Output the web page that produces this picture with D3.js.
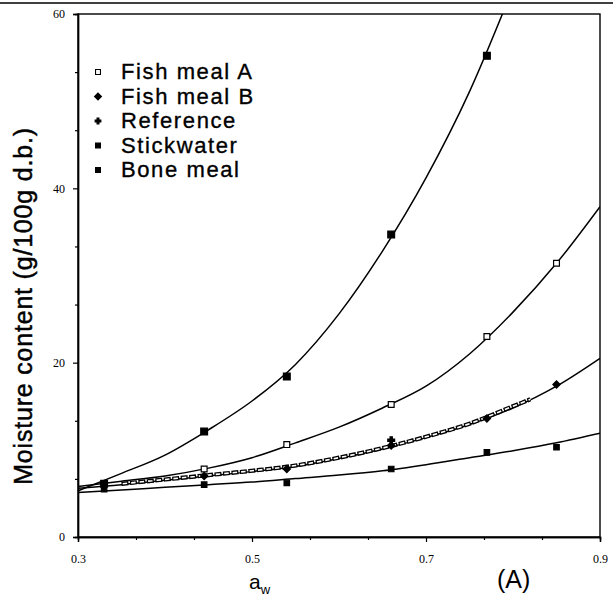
<!DOCTYPE html>
<html>
<head>
<meta charset="utf-8">
<script src="https://cdn.jsdelivr.net/npm/d3@7"></script>
<style>
  body { margin: 0; background: #fff; }
  svg { display: block; }
</style>
</head>
<body>
<div id="chart"></div>
<script>
// measured water activities of the data points
const pointAw = [0.33, 0.445, 0.54, 0.66, 0.77, 0.85];
const fishMealA = [null, 7.8, 10.6, 15.2, 23.0, 31.4];
const fishMealB = [null, 7.0, 7.8, 10.5, 13.6, 17.5];
const referencePts = [null, null, null, 11.1, null, null];
const stickwater = [6.1, 12.1, 18.4, 34.7, 55.2, null];
const boneMeal = [5.5, 6.0, 6.2, 7.8, 9.7, 10.3];

// fitted curves
const curveAw = [0.3, 0.35, 0.4, 0.45, 0.5, 0.55, 0.6, 0.65, 0.7, 0.75, 0.8, 0.85, 0.9];
const fitFishMealA = [5.8, 6.4, 7.0, 7.9, 9.1, 10.8, 12.6, 14.8, 17.3, 21.0, 25.8, 31.4, 37.9];
const fitFishMealB = [5.6, 6.0, 6.5, 7.0, 7.5, 8.1, 9.0, 10.1, 11.4, 12.9, 14.8, 17.3, 20.5];
const fitStickwater = [5.3, 7.3, 9.4, 12.3, 15.6, 19.8, 25.6, 32.8, 41.2, 51.1, 63.0, null, null];
const fitBoneMeal = [5.1, 5.4, 5.7, 6.0, 6.3, 6.7, 7.1, 7.6, 8.3, 9.1, 9.9, 10.8, 11.9];

// reference isotherm (chain of small circles)
const referenceAw = [0.35, 0.4, 0.45, 0.5, 0.55, 0.6, 0.65, 0.7, 0.75, 0.8, 0.82];
const referenceV = [6.1, 6.6, 7.1, 7.6, 8.2, 9.1, 10.2, 11.5, 13.0, 15.0, 15.8];

const xTicks = [0.3, 0.5, 0.7, 0.9];
const yTicks = [0, 20, 40, 60];
const legendNames = ['Fish meal A', 'Fish meal B', 'Reference', 'Stickwater', 'Bone meal'];

const width = 613, height = 597;
const m = { left: 78, right: 600, top: 14, bottom: 537 };
const sans = '"Liberation Sans", Arial, sans-serif';

const svg = d3.select('#chart').append('svg')
  .attr('width', width)
  .attr('height', height);

const x = d3.scaleLinear().domain([0.3, 0.9]).range([m.left, m.right]);
const y = d3.scaleLinear().domain([0, 60]).range([m.bottom, m.top]);

// scan edge at top
svg.append('line')
  .attr('x1', 0).attr('x2', width).attr('y1', 3).attr('y2', 3)
  .attr('stroke', '#000').attr('stroke-width', 1.6);

svg.append('clipPath').attr('id', 'clip')
  .append('rect')
    .attr('x', m.left).attr('y', m.top)
    .attr('width', m.right - m.left).attr('height', m.bottom - m.top);

// frame
svg.append('rect')
  .attr('x', m.left).attr('y', m.top)
  .attr('width', m.right - m.left).attr('height', m.bottom - m.top)
  .attr('fill', 'none').attr('stroke', '#000').attr('stroke-width', 1.4);

// axes
const minorX = d3.range(0, 10).map(i => 0.3 + i * 0.2 / 3).filter((d, i) => i % 3 !== 0);
const minorY = d3.range(0, 10).map(i => i * 20 / 3).filter((d, i) => i % 3 !== 0);

svg.append('g').attr('transform', `translate(0,${m.bottom})`)
  .call(d3.axisBottom(x).tickValues(xTicks).tickSize(5).tickPadding(12).tickFormat(d3.format('.1f')));
svg.append('g').attr('transform', `translate(0,${m.bottom})`)
  .call(d3.axisBottom(x).tickValues(minorX).tickSize(3).tickFormat(''));
svg.append('g').attr('transform', `translate(${m.left},0)`)
  .call(d3.axisLeft(y).tickValues(yTicks).tickSize(5).tickPadding(8));
svg.append('g').attr('transform', `translate(${m.left},0)`)
  .call(d3.axisLeft(y).tickValues(minorY).tickSize(3).tickFormat(''));

svg.selectAll('.domain').attr('stroke-width', 1.4);
svg.selectAll('.tick line').attr('stroke-width', 1.2);
svg.selectAll('.tick text')
  .attr('font-family', '"Liberation Serif", "DejaVu Serif", serif')
  .attr('font-size', 12)
  .attr('fill', '#000');

// curves
const plot = svg.append('g').attr('clip-path', 'url(#clip)');
const line = d3.line()
  .defined(d => d[1] != null)
  .x(d => x(d[0]))
  .y(d => y(d[1]))
  .curve(d3.curveMonotoneX);

[fitFishMealA, fitFishMealB, fitStickwater, fitBoneMeal].forEach(fit => {
  plot.append('path')
    .datum(curveAw.map((a, i) => [a, fit[i]]))
    .attr('d', line)
    .attr('fill', 'none')
    .attr('stroke', '#000')
    .attr('stroke-width', 1.5);
});

// reference chain
const refData = referenceAw.map((a, i) => [a, referenceV[i]]);
plot.append('path').datum(refData).attr('d', line)
  .attr('fill', 'none').attr('stroke', '#000')
  .attr('stroke-width', 4.2).attr('stroke-dasharray', '7 1.5');
plot.append('path').datum(refData).attr('d', line)
  .attr('fill', 'none').attr('stroke', '#fff')
  .attr('stroke-width', 1.6).attr('stroke-dasharray', '4.5 4').attr('stroke-dashoffset', -1.2);

// markers
const series = [
  { values: fishMealA, type: d3.symbolSquare, size: 34, fill: '#fff', rot: 0 },
  { values: fishMealB, type: d3.symbolSquare, size: 26, fill: '#000', rot: 45 },
  { values: referencePts, type: d3.symbolCross, size: 26, fill: '#000', rot: 0 },
  { values: stickwater, type: d3.symbolSquare, size: 46, fill: '#000', rot: 0 },
  { values: boneMeal, type: d3.symbolSquare, size: 30, fill: '#000', rot: 0 }
];

series.forEach(s => {
  plot.selectAll(null)
    .data(pointAw.map((a, i) => [a, s.values[i]]).filter(d => d[1] != null))
    .enter().append('path')
      .attr('transform', d => `translate(${x(d[0])},${y(d[1])}) rotate(${s.rot})`)
      .attr('d', d3.symbol().type(s.type).size(s.size))
      .attr('fill', s.fill)
      .attr('stroke', '#000')
      .attr('stroke-width', 1.2);
});

// legend
const legend = svg.append('g');
legendNames.forEach((name, i) => {
  const s = series[i];
  const by = 79 + i * 24.5;
  legend.append('path')
    .attr('transform', `translate(98,${by - 7}) rotate(${s.rot})`)
    .attr('d', d3.symbol().type(s.type).size(i === 2 ? 18 : 24))
    .attr('fill', s.fill)
    .attr('stroke', '#000')
    .attr('stroke-width', 1.1);
  legend.append('text')
    .attr('x', 121).attr('y', by)
    .attr('font-family', sans)
    .attr('font-size', 22)
    .attr('letter-spacing', 1.6)
    .attr('stroke', '#000')
    .attr('stroke-width', 0.35)
    .text(name);
});

// axis titles
svg.append('text')
  .attr('transform', 'translate(32,306) rotate(-90)')
  .attr('text-anchor', 'middle')
  .attr('font-family', sans)
  .attr('font-size', 25)
  .attr('letter-spacing', 0.8)
  .attr('stroke', '#000')
  .attr('stroke-width', 0.45)
  .text('Moisture content (g/100g d.b.)');

const xl = svg.append('text')
  .attr('x', 249).attr('y', 589)
  .attr('font-family', sans)
  .attr('font-size', 21);
xl.append('tspan').text('a');
xl.append('tspan').attr('font-size', 13).attr('dy', 5).text('w');

svg.append('text')
  .attr('x', 497).attr('y', 588)
  .attr('font-family', sans)
  .attr('font-size', 25)
  .text('(A)');
</script>
</body>
</html>
